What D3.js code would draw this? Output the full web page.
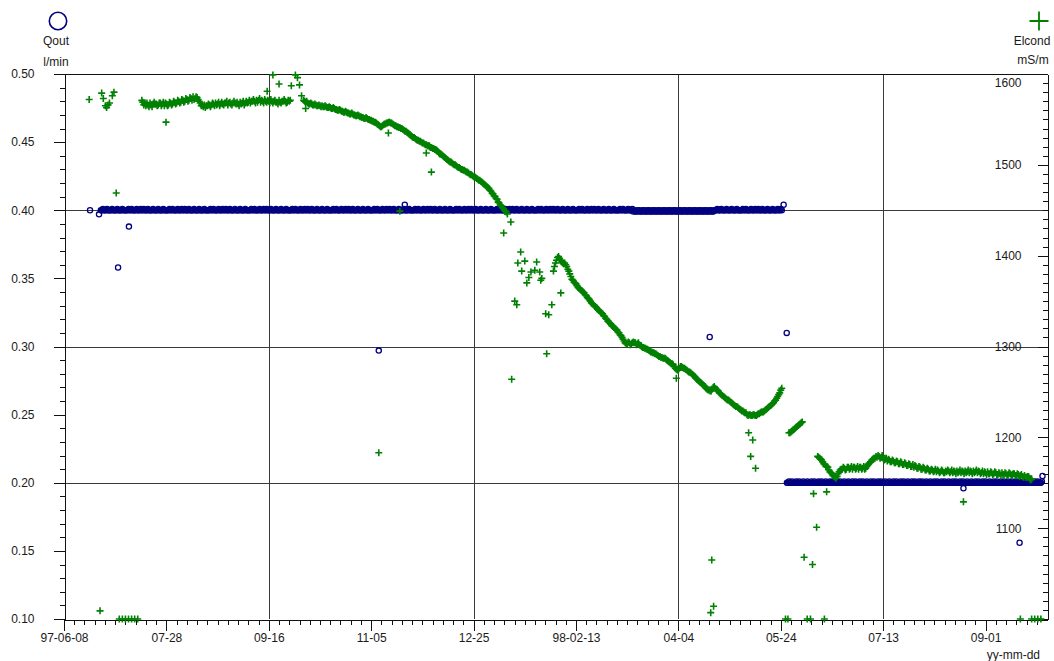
<!DOCTYPE html>
<html>
<head>
<meta charset="utf-8">
<script src="https://cdn.jsdelivr.net/npm/d3@7"></script>
<style>
  body { margin: 0; background: #fff; }
  svg { display: block; font-family: "Liberation Sans", Arial, sans-serif; }
</style>
</head>
<body>
<svg id="chart" width="1054" height="661"></svg>
<script>
// ---- time axis ----
const startDate = "1997-06-08";
const endDate = "1998-10-01";
const xTickDates = ["1997-06-08","1997-07-28","1997-09-16","1997-11-05","1997-12-25",
                    "1998-02-13","1998-04-04","1998-05-24","1998-07-13","1998-09-01"];
const xTickLabels = ["97-06-08","07-28","09-16","11-05","12-25","98-02-13","04-04","05-24","07-13","09-01"];
const xGridDates = ["1997-09-16","1997-12-25","1998-04-04","1998-07-13"];

// ---- value axes ----
const qoutTicks = [0.10,0.15,0.20,0.25,0.30,0.35,0.40,0.45,0.50];
const qoutGrid = [0.20,0.30,0.40];
const elcondTicks = [1100,1200,1300,1400,1500,1600];

// readings are logged every half day
const sampleStep = 0.5;

// ---- Qout (l/min) ----
const qoutStartHigh = 18;   // days after 97-06-08
const qoutHigh = [
  0.4,0.4,0.401,0.4,0.4,0.4,0.401,0.4,0.4,0.4,0.4,0.401,0.4,0.4,0.4,0.4,0.401,0.4,0.4,0.4,
  0.4,0.401,0.4,0.4,0.4,0.4,0.4,0.401,0.4,0.4,0.401,0.4,0.4,0.4,0.4,0.401,0.4,0.4,0.4,0.401,
  0.4,0.4,0.401,0.4,0.4,0.4,0.401,0.4,0.4,0.4,0.4,0.401,0.4,0.4,0.4,0.4,0.401,0.4,0.4,0.4,
  0.4,0.401,0.4,0.4,0.4,0.4,0.4,0.401,0.4,0.4,0.401,0.4,0.4,0.4,0.4,0.401,0.4,0.4,0.4,0.401,
  0.4,0.4,0.401,0.4,0.4,0.4,0.401,0.4,0.4,0.4,0.4,0.401,0.4,0.4,0.4,0.4,0.401,0.4,0.4,0.4,
  0.4,0.401,0.4,0.4,0.4,0.4,0.4,0.401,0.4,0.4,0.401,0.4,0.4,0.4,0.4,0.401,0.4,0.4,0.4,0.401,
  0.4,0.4,0.401,0.4,0.4,0.4,0.401,0.4,0.4,0.4,0.4,0.401,0.4,0.4,0.4,0.4,0.401,0.4,0.4,0.4,
  0.4,0.401,0.4,0.4,0.4,0.4,0.4,0.401,0.4,0.4,0.401,0.4,0.4,0.4,0.4,0.401,0.4,0.4,0.4,0.401,
  0.4,0.4,0.401,0.4,0.4,0.4,0.401,0.4,0.4,0.4,0.4,0.401,0.4,0.4,0.4,0.4,0.401,0.4,0.4,0.4,
  0.4,0.401,0.4,0.4,0.4,0.4,0.4,0.401,0.4,0.4,0.401,0.4,0.4,0.4,0.4,0.401,0.4,0.4,0.4,0.401,
  0.4,0.4,0.401,0.4,0.4,0.4,0.401,0.4,0.4,0.4,0.4,0.401,0.4,0.4,0.4,0.4,0.401,0.4,0.4,0.4,
  0.4,0.401,0.4,0.4,0.4,0.4,0.4,0.401,0.4,0.4,0.401,0.4,0.4,0.4,0.4,0.401,0.4,0.4,0.4,0.401,
  0.4,0.4,0.401,0.4,0.4,0.4,0.401,0.4,0.4,0.4,0.4,0.401,0.4,0.4,0.4,0.4,0.401,0.4,0.4,0.4,
  0.4,0.401,0.4,0.4,0.4,0.4,0.4,0.401,0.4,0.4,0.401,0.4,0.4,0.4,0.4,0.401,0.4,0.4,0.4,0.401,
  0.4,0.4,0.401,0.4,0.4,0.4,0.401,0.4,0.4,0.4,0.4,0.401,0.4,0.4,0.4,0.4,0.401,0.4,0.4,0.4,
  0.4,0.401,0.4,0.4,0.4,0.4,0.4,0.401,0.4,0.4,0.401,0.4,0.4,0.4,0.4,0.401,0.4,0.4,0.4,0.401,
  0.4,0.4,0.401,0.4,0.4,0.4,0.401,0.4,0.4,0.4,0.4,0.401,0.4,0.4,0.4,0.4,0.401,0.4,0.4,0.4,
  0.4,0.401,0.4,0.4,0.4,0.4,0.4,0.401,0.4,0.4,0.401,0.4,0.4,0.4,0.4,0.401,0.4,0.4,0.4,0.401,
  0.4,0.4,0.401,0.4,0.4,0.4,0.401,0.4,0.4,0.4,0.4,0.401,0.4,0.4,0.4,0.4,0.401,0.4,0.4,0.4,
  0.4,0.401,0.4,0.4,0.4,0.4,0.4,0.401,0.4,0.4,0.401,0.4,0.4,0.4,0.4,0.401,0.4,0.4,0.4,0.401,
  0.4,0.4,0.401,0.4,0.4,0.4,0.401,0.4,0.4,0.4,0.4,0.401,0.4,0.4,0.4,0.4,0.401,0.4,0.4,0.4,
  0.4,0.401,0.4,0.4,0.4,0.4,0.4,0.401,0.4,0.4,0.401,0.4,0.4,0.4,0.4,0.401,0.4,0.4,0.4,0.401,
  0.4,0.4,0.401,0.4,0.4,0.4,0.401,0.4,0.4,0.4,0.4,0.401,0.4,0.4,0.4,0.4,0.401,0.4,0.4,0.4,
  0.4,0.401,0.4,0.4,0.4,0.4,0.4,0.401,0.4,0.4,0.401,0.4,0.4,0.4,0.4,0.401,0.4,0.4,0.4,0.401,
  0.4,0.4,0.401,0.4,0.4,0.4,0.401,0.4,0.4,0.4,0.4,0.401,0.4,0.4,0.4,0.4,0.401,0.4,0.4,0.4,
  0.4,0.401,0.4,0.4,0.4,0.4,0.4,0.401,0.4,0.4,0.401,0.4,0.4,0.4,0.4,0.401,0.4,0.4,0.4,0.401,
  0.399,0.4,0.399,0.399,0.4,0.399,0.4,0.399,0.399,0.4,0.399,0.4,0.399,0.399,0.4,0.399,0.4,0.399,0.399,0.4,
  0.399,0.4,0.399,0.399,0.4,0.399,0.4,0.399,0.399,0.4,0.399,0.4,0.399,0.399,0.4,0.399,0.4,0.399,0.399,0.4,
  0.399,0.4,0.399,0.399,0.4,0.399,0.4,0.399,0.399,0.4,0.399,0.4,0.399,0.399,0.4,0.399,0.4,0.399,0.399,0.4,
  0.399,0.4,0.399,0.399,0.4,0.399,0.4,0.399,0.399,0.4,0.399,0.4,0.399,0.399,0.4,0.399,0.4,0.399,0.399,0.4,
  0.4,0.4,0.401,0.4,0.4,0.4,0.401,0.4,0.4,0.4,0.4,0.401,0.4,0.4,0.4,0.4,0.401,0.4,0.4,0.4,
  0.4,0.401,0.4,0.4,0.4,0.4,0.4,0.401,0.4,0.4,0.401,0.4,0.4,0.4,0.4,0.401,0.4,0.4,0.4,0.401,
  0.4,0.4,0.401,0.4,0.4,0.4,0.401,0.4,0.4,0.4,0.4,0.401,0.4,0.4,0.4,0.4,0.401,0.4,0.4,0.4,
  0.4,0.401,0.4,0.4,0.401,0.4
];
const qoutStartLow = 353;
const qoutLow = [
  0.2,0.2,0.201,0.2,0.2,0.201,0.2,0.2,0.2,0.201,0.2,0.2,0.201,0.2,0.2,0.2,0.201,0.2,0.2,0.2,
  0.201,0.2,0.2,0.2,0.201,0.2,0.2,0.201,0.2,0.2,0.2,0.201,0.2,0.2,0.201,0.2,0.2,0.2,0.201,0.2,
  0.2,0.2,0.201,0.2,0.2,0.201,0.2,0.2,0.2,0.201,0.2,0.2,0.201,0.2,0.2,0.2,0.201,0.2,0.2,0.2,
  0.201,0.2,0.2,0.2,0.201,0.2,0.2,0.201,0.2,0.2,0.2,0.201,0.2,0.2,0.201,0.2,0.2,0.2,0.201,0.2,
  0.2,0.2,0.201,0.2,0.2,0.201,0.2,0.2,0.2,0.201,0.2,0.2,0.201,0.2,0.2,0.2,0.201,0.2,0.2,0.2,
  0.201,0.2,0.2,0.2,0.201,0.2,0.2,0.201,0.2,0.2,0.2,0.201,0.2,0.2,0.201,0.2,0.2,0.2,0.201,0.2,
  0.2,0.2,0.201,0.2,0.2,0.201,0.2,0.2,0.2,0.201,0.2,0.2,0.201,0.2,0.2,0.2,0.201,0.2,0.2,0.2,
  0.201,0.2,0.2,0.2,0.201,0.2,0.2,0.201,0.2,0.2,0.2,0.201,0.2,0.2,0.201,0.2,0.2,0.2,0.201,0.2,
  0.2,0.2,0.201,0.2,0.2,0.201,0.2,0.2,0.2,0.201,0.2,0.2,0.201,0.2,0.2,0.2,0.201,0.2,0.2,0.2,
  0.201,0.2,0.2,0.2,0.201,0.2,0.2,0.201,0.2,0.2,0.2,0.201,0.2,0.2,0.201,0.2,0.2,0.2,0.201,0.2,
  0.2,0.2,0.201,0.2,0.2,0.201,0.2,0.2,0.2,0.201,0.2,0.2,0.201,0.2,0.2,0.2,0.201,0.2,0.2,0.2,
  0.201,0.2,0.2,0.2,0.201,0.2,0.2,0.201,0.2,0.2,0.2,0.201,0.2,0.2,0.201,0.2,0.2,0.2,0.201,0.2,
  0.2,0.2,0.201,0.2,0.2,0.201,0.2,0.2,0.2,0.201
];
// separate Qout readings: [days after 97-06-08, l/min]
const qoutExtra = [
  [12.7,0.400],[17.1,0.397],[26.4,0.358],[31.7,0.388],[153.7,0.297],[166.4,0.404],
  [315.3,0.307],[351.4,0.404],[352.9,0.310],[439.2,0.196],[466.6,0.156],[477.8,0.205]
];

// ---- Elcond (mS/m), continuous runs ----
const elcondStartA = 38;
const elcondA = [
  1571,1569,1566,1568,1565,1568,1566,1564,1568,1566,1564,1567,1569,1567,1567,1565,1566,1568,1568,1565,
  1567,1569,1565,1568,1567,1565,1566,1569,1568,1566,1567,1570,1569,1567,1568,1571,1570,1568,1569,1572,
  1571,1569,1570,1573,1572,1570,1571,1574,1573,1571,1575,1572,1573,1575,1574,1572,1570,1568,1565,1566,
  1564,1566,1563,1565,1565,1567,1566,1564,1566,1568,1567,1565,1568,1566,1567,1569,1565,1567,1569,1567,
  1566,1568,1568,1570,1566,1568,1569,1567,1566,1568,1570,1568,1567,1569,1567,1565,1569,1567,1568,1570,
  1566,1568,1570,1568,1569,1571,1568,1570,1570,1572,1570,1568,1571,1569,1571,1573,1569,1571,1570,1568,
  1572,1570,1569,1571,1570,1568,1572,1570,1568,1570,1571,1569,1569,1567,1571,1569,1568,1570,1570,1572,
  1570,1568,1569,1571,1570,1571,1587,null,null,null,1599,null,1596,null,1588,null,1576,null,1571,1570,
  1569,1570,1568,1567,1567,1568,1567,1566,1566,1567,1566,1565,1565,1566,1565,1564,1565,1564,1564,1565,
  1564,1563,1563,1564,1563,1562,1562,1563,1562,1561,1561,1560,1560,1561,1560,1559,1559,1558,1558,1559,
  1558,1557,1557,1556,1556,1557,1556,1555,1555,1554,1554,1555,1554,1553,1553,1552,1552,1551,1551,1552,
  1551,1550,1550,1549,1549,1548,1548,1547,1547,1546,1545,1544,1543,1542,1542,1543,1544,1545,1545,1546,
  1546,1547,1547,1546,1546,1545,1544,1543,1543,1542,1542,1541,1541,1540,1540,1539,1538,1537,1537,1536,
  1535,1534,1533,1532,1531,1530,1530,1529,1528,1527,1527,1526,1526,1525,1524,1524,1523,1522,1522,1521,
  1521,1520,1519,1519,1518,1518,1517,1517,1516,1515,1513,1512,1512,1511,1510,1509,1508,1507,1506,1505,
  1504,1503,1503,1502,1501,1500,1500,1499,1498,1497,1497,1496,1495,1495,1494,1494,1493,1492,1492,1491,
  1490,1489,1489,1488,1487,1487,1486,1485,1484,1483,1483,1482,1481,1480,1479,1478,1477,1476,1475,1474,
  1472,1471,1469,1468,1466,1465,1463,1462,1459,1458,1456,1455,1453,1452,1450,1449,1448,1446
];
const elcondStartB = 239;
const elcondB = [
  1383,1388,1392,1395,1398,1399,1397,1395,1393,1392,1391,1392,1390,1388,1385,1383,1380,1377,1374,1373,
  1371,1370,1369,1367,1365,1364,1363,1362,1361,1360,1359,1357,1356,1354,1353,1352,1350,1348,1347,1346,
  1345,1344,1343,1341,1340,1339,1338,1337,1336,1334,1333,1331,1330,1328,1327,1326,1325,1323,1322,1321,
  1320,1319,1318,1316,1315,1313,1312,1310,1308,1306,1304,1303,1303,1305,1304,1302,1303,1304,1305,1304,
  1304,1302,1303,1304,1302,1301,1300,1299,1299,1298,1298,1297,1297,1296,1295,1294,1294,1293,1293,1292,
  1292,1291,1290,1289,1289,1288,1288,1287,1287,1287,1286,1285,1284,1283,1282,1281,1281,1280,1278,1276,
  1275,1274,1274,1276,1278,1278,1277,1276,1276,1275,1274,1273,1272,1272,1271,1270,1269,1268,1267,1265,
  1264,1263,1262,1261,1260,1259,1258,1257,1256,1254,1253,1252,1252,1251,1251,1253,1255,1256,1254,1253,
  1252,1251,1249,1248,1247,1246,1245,1244,1243,1242,1241,1241,1240,1239,1238,1237,1236,1235,1234,1234,
  1233,1232,1231,1230,1229,1229,1228,1227,1227,1225,1224,1225,1225,1224,1224,1225,1225,1224,1224,1225,
  1226,1226,1227,1228,1228,1228,1229,1230,1231,1232,1233,1234,1235,1236,1237,1238,1240,1241,1243,1245,
  1247,1249,1252,1254
];
const elcondStartC = 354;
const elcondC = [1205,1205,1206,1207,1208,1209,1210,1211,1212,1213,1214,1215,1216,1217];
const elcondStartD = 368;
const elcondD = [
  1179,1178,1177,1176,1175,1173,1171,1170,1168,1168,1167,1164,1162,1161,1160,1158,1157,1156,1155,1157,
  1160,1162,1164,1165,1165,1167,1166,1164,1165,1167,1167,1165,1166,1168,1165,1167,1167,1165,1166,1168,
  1165,1167,1167,1165,1166,1168,1165,1166,1168,1170,1171,1172,1173,1175,1176,1177,1177,1179,1178,1180,
  1179,1177,1178,1180,1177,1175,1176,1177,1174,1176,1175,1173,1173,1175,1174,1172,1172,1174,1173,1171,
  1171,1173,1172,1170,1170,1172,1171,1169,1169,1171,1170,1168,1168,1170,1167,1169,1168,1166,1166,1168,
  1167,1165,1165,1167,1166,1164,1164,1166,1165,1163,1163,1165,1164,1162,1163,1165,1162,1164,1163,1161,
  1162,1164,1163,1161,1161,1163,1162,1164,1163,1161,1162,1164,1161,1163,1162,1160,1163,1161,1162,1164,
  1161,1163,1162,1160,1163,1161,1162,1164,1161,1163,1162,1160,1163,1161,1162,1164,1161,1163,1162,1160,
  1161,1163,1160,1162,1161,1159,1162,1160,1160,1162,1161,1159,1160,1162,1161,1159,1159,1161,1160,1158,
  1161,1159,1159,1161,1160,1158,1159,1161,1160,1158,1159,1160,1160,1158,1158,1160,1159,1157,1158,1159,
  1157,1156,1158,1156,1156,1157,1157,1155,1153,1154
];
// separate Elcond readings: [days after 97-06-08, mS/m]; 1000 = at or below scale floor
const elcondExtra = [
  [12.3,1572],[17.6,1009],[18.4,1579],[19.2,1573],[20.2,1565],[20.8,1563],[21.5,1566],
  [22.2,1568],[23.6,1576],[24.4,1580],[25.5,1469],
  [27,1000],[28.5,1000],[30,1000],[31.5,1000],[33,1000],[34.5,1000],[36,1000],
  [49.8,1547],[99.2,1581],[102,1599],[105,1589],[118,1562],
  [153.7,1183],[158.4,1535],[164,1449],[176.9,1513],[178.4,1521],[179.4,1492],
  [214.7,1425],[218.2,1437],[218.6,1264],[220.1,1350],[221.1,1346],[221.6,1392],
  [223,1404],[223.5,1383],[225,1394],[226,1370],[227,1376],[228,1382],[229.9,1384],
  [230.8,1393],[232.3,1382],[232.8,1373],[233.3,1375],[235.2,1336],[235.7,1292],
  [236.7,1335],[238.2,1346],[242.6,1359],
  [299,1265],[315.8,1007],[316.3,1065],[317.2,1014],
  [334.3,1205],[335.3,1179],[336.3,1197],[337.7,1166],
  [352.3,1000],[353.5,1000],[361.4,1068],[362.9,1000],[364.5,1000],[365.5,1060],
  [366,1138],[367.5,1101],[371.3,1000],[372.4,1140],
  [439.2,1129],[467,1000],[472.5,1000],[474,1000],[475.5,1000],[477,1000]
];

// ---- layout ----
const X0 = 64, X1 = 1047, Y0 = 74, Y1 = 619;
const svg = d3.select("#chart");

const t0 = new Date(startDate).getTime();
const dayDate = d => new Date(t0 + d * 864e5);

const x = d3.scaleUtc().domain([new Date(startDate), new Date(endDate)]).range([X0, X1]);
const yL = d3.scaleLinear().domain([0.10, 0.50]).range([Y1, Y0]).clamp(true);
const yR = d3.scaleLinear().domain([1000, 1600]).range([Y1, Y0]).clamp(true);

const axisColor = "#111";
const gridColor = "#3a3a3a";
const textColor = "#1a1a1a";

// grid
const grid = svg.append("g").attr("shape-rendering", "crispEdges");
grid.selectAll("line.h").data(qoutGrid).join("line")
  .attr("x1", X0).attr("x2", X1)
  .attr("y1", d => Math.round(yL(d)) + 0.5).attr("y2", d => Math.round(yL(d)) + 0.5)
  .attr("stroke", gridColor);
grid.selectAll("line.v").data(xGridDates).join("line")
  .attr("x1", d => Math.round(x(new Date(d))) + 0.5).attr("x2", d => Math.round(x(new Date(d))) + 0.5)
  .attr("y1", Y0).attr("y2", Y1)
  .attr("stroke", gridColor);

// frame top
svg.append("line").attr("x1", X0).attr("x2", X1).attr("y1", Y0 + 0.5).attr("y2", Y0 + 0.5)
  .attr("stroke", axisColor).attr("shape-rendering", "crispEdges");

function styleAxis(g) {
  g.attr("shape-rendering", "crispEdges");
  g.selectAll("path.domain").attr("stroke", axisColor);
  g.selectAll(".tick line").attr("stroke", axisColor);
  g.selectAll(".tick text").attr("fill", textColor).attr("font-size", 12)
    .attr("font-family", '"Liberation Sans", Arial, sans-serif');
}

// left axis (Qout)
const minorL = d3.range(11, 50).map(v => v / 100).filter(v => Math.round(v * 100) % 5 !== 0);
svg.append("g").attr("transform", `translate(${X0 + 0.5},0)`)
  .call(d3.axisLeft(yL).tickValues(minorL).tickSize(5).tickSizeOuter(0).tickFormat(""))
  .call(styleAxis);
svg.append("g").attr("transform", `translate(${X0 + 0.5},0)`)
  .call(d3.axisLeft(yL).tickValues(qoutTicks).tickSize(11).tickSizeOuter(0)
    .tickPadding(19).tickFormat(d3.format(".2f")))
  .call(styleAxis);

// right axis (Elcond), ticks and labels sit inside the frame
const minorR = d3.range(1010, 1600, 10).filter(v => v % 100 !== 0);
svg.append("g").attr("transform", `translate(${X1 + 0.5},0)`)
  .call(d3.axisLeft(yR).tickValues(minorR).tickSize(5).tickSizeOuter(0).tickFormat(""))
  .call(styleAxis);
const rAxis = svg.append("g").attr("transform", `translate(${X1 + 0.5},0)`)
  .call(d3.axisLeft(yR).tickValues([1000].concat(elcondTicks)).tickSize(10).tickSizeOuter(0)
    .tickPadding(16).tickFormat(d => d === 1000 ? "" : d))
  .call(styleAxis);
rAxis.selectAll(".tick text").filter(d => d === 1600).attr("dy", "1.05em");

// bottom axis (time)
const minorX = d3.utcDay.range(new Date(startDate), new Date(endDate), 5);
svg.append("g").attr("transform", `translate(0,${Y1 + 0.5})`)
  .call(d3.axisBottom(x).tickValues(minorX).tickSize(5).tickSizeOuter(0).tickFormat(""))
  .call(styleAxis);
svg.append("g").attr("transform", `translate(0,${Y1 + 0.5})`)
  .call(d3.axisBottom(x).tickValues(xTickDates.map(d => new Date(d))).tickSize(11).tickSizeOuter(0)
    .tickPadding(3).tickFormat((d, i) => xTickLabels[i]))
  .call(styleAxis);

svg.append("text").attr("x", 1040).attr("y", 659).attr("text-anchor", "end")
  .attr("font-size", 12).attr("fill", textColor).text("yy-mm-dd");

// ---- data points ----
const runPoints = (start, arr) => arr.map((v, i) => ({ date: dayDate(start + i * sampleStep), v }));
const extraPoints = arr => arr.map(([d, v]) => ({ date: dayDate(d), v }));

const qoutPts = runPoints(qoutStartHigh, qoutHigh)
  .concat(runPoints(qoutStartLow, qoutLow), extraPoints(qoutExtra))
  .filter(p => p.v != null);

const elcondPts = runPoints(elcondStartA, elcondA)
  .concat(runPoints(elcondStartB, elcondB), runPoints(elcondStartC, elcondC),
          runPoints(elcondStartD, elcondD), extraPoints(elcondExtra))
  .filter(p => p.v != null);

const blue = "#000080";
const green = "#008000";

svg.append("g").selectAll("circle").data(qoutPts).join("circle")
  .attr("cx", p => x(p.date)).attr("cy", p => yL(p.v)).attr("r", 2.6)
  .attr("fill", "none").attr("stroke", blue).attr("stroke-width", 1.3);

const plus = "M-3.5,0H3.5M0,-3.5V3.5";
svg.append("g").selectAll("path").data(elcondPts).join("path")
  .attr("transform", p => `translate(${x(p.date)},${yR(p.v)})`)
  .attr("d", plus).attr("stroke", green).attr("stroke-width", 1.6).attr("fill", "none");

// ---- series headers ----
svg.append("circle").attr("cx", 58).attr("cy", 21).attr("r", 8.7)
  .attr("fill", "none").attr("stroke", blue).attr("stroke-width", 1.6);
svg.append("text").attr("x", 56).attr("y", 45).attr("text-anchor", "middle")
  .attr("font-size", 12).attr("fill", textColor).text("Qout");
svg.append("text").attr("x", 56).attr("y", 66).attr("text-anchor", "middle")
  .attr("font-size", 12).attr("fill", textColor).text("l/min");

svg.append("path").attr("transform", "translate(1039,21)")
  .attr("d", "M-9.5,0H9.5M0,-9.5V9.5").attr("stroke", green).attr("stroke-width", 1.8);
svg.append("text").attr("x", 1032).attr("y", 45).attr("text-anchor", "middle")
  .attr("font-size", 12).attr("fill", textColor).text("Elcond");
svg.append("text").attr("x", 1033).attr("y", 64).attr("text-anchor", "middle")
  .attr("font-size", 12).attr("fill", textColor).text("mS/m");
</script>
</body>
</html>
